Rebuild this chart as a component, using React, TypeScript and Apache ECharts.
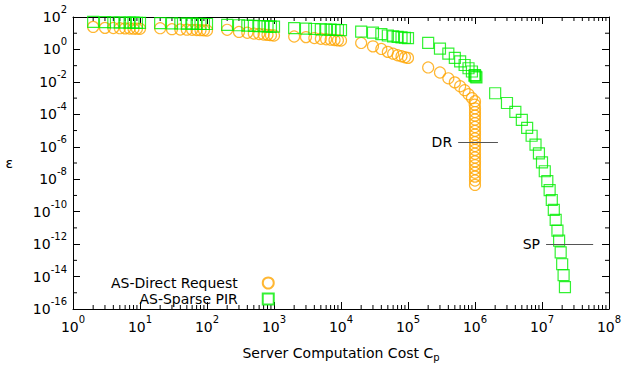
import React, { useEffect, useRef } from 'react';
import * as echarts from 'echarts';

const FONT = 'DejaVu Sans';
const ORANGE = '#ffa500';
const GREEN = '#00ee00';

// Server computation cost (C_p) for AS-Direct Request
const drCost = [
  2, 3, 4, 5, 6, 7, 8, 9, 10,
  20, 30, 40, 50, 60, 70, 80, 90, 100,
  200, 300, 400, 500, 600, 700, 800, 900, 1000,
  2000, 3000, 4000, 5000, 6000, 7000, 8000, 9000, 10000,
  2e4, 3e4, 4e4, 5e4, 6e4, 7e4, 8e4, 9e4, 1e5,
  2e5, 3e5, 4e5, 5e5, 6e5, 7e5, 8e5, 9e5, 1e6,
];
// log10(epsilon) for AS-Direct Request
const drLogEps = [
  1.39, 1.33, 1.32, 1.31, 1.30, 1.29, 1.28, 1.28, 1.27,
  1.31, 1.25, 1.23, 1.22, 1.21, 1.20, 1.19, 1.18, 1.17,
  1.21, 1.08, 1.03, 0.98, 0.95, 0.92, 0.90, 0.88, 0.86,
  0.80, 0.76, 0.70, 0.66, 0.63, 0.60, 0.58, 0.56, 0.55,
  0.40, 0.19, 0.03, -0.15, -0.26, -0.36, -0.42, -0.48, -0.52,
  -1.11, -1.42, -1.78, -2.03, -2.27, -2.51, -2.76, -3.00, -3.19,
];
// vertical stack of AS-Direct Request near C_p = 1e6
const drStackCost = [
  0.99e6, 1e6, 1e6, 1e6, 1e6, 1e6, 1e6, 1e6, 1e6, 1e6, 1e6,
  1e6, 1e6, 1e6, 1e6, 1e6, 1e6, 1e6, 1e6, 1e6, 1e6, 1e6,
];
const drStackLogEps = [
  -3.40, -3.63, -3.86, -4.08, -4.32, -4.55, -4.78, -5.02, -5.25, -5.49, -5.72,
  -5.95, -6.19, -6.43, -6.66, -6.90, -7.13, -7.37, -7.60, -7.84, -8.08, -8.35,
];

// AS-Sparse PIR
const spCost = [
  2, 3, 4, 5, 6, 7, 8, 9, 10,
  20, 30, 40, 50, 60, 70, 80, 90, 100,
  200, 300, 400, 500, 600, 700, 800, 900, 1000,
  2000, 3000, 4000, 5000, 6000, 7000, 8000, 9000, 10000,
  2e4, 3e4, 4e4, 5e4, 6e4, 7e4, 8e4, 9e4, 1e5,
  2e5, 3e5, 4e5, 5e5, 6e5, 7e5, 8e5, 9e5, 1e6,
  0.98e6, 1.02e6, 1.05e6,
];
const spLogEps = [
  1.70, 1.68, 1.67, 1.66, 1.66, 1.65, 1.65, 1.64, 1.64,
  1.62, 1.61, 1.60, 1.59, 1.59, 1.58, 1.58, 1.57, 1.57,
  1.52, 1.49, 1.47, 1.45, 1.44, 1.43, 1.42, 1.41, 1.41,
  1.31, 1.28, 1.26, 1.24, 1.23, 1.22, 1.21, 1.20, 1.19,
  1.10, 1.04, 0.94, 0.86, 0.81, 0.77, 0.74, 0.72, 0.70,
  0.41, 0.05, -0.26, -0.52, -0.74, -0.96, -1.16, -1.36, -1.58,
  -1.62, -1.68, -1.72,
];
const spTailCost = [
  2e6, 3e6, 4e6, 5e6, 6e6, 7e6, 8e6, 9e6, 10e6, 11e6, 12e6,
  13e6, 14e6, 15e6, 16e6, 17e6, 18e6, 19e6, 20e6, 21e6, 22e6,
];
const spTailLogEps = [
  -2.70, -3.30, -3.85, -4.34, -4.83, -5.32, -5.87, -6.41, -6.96, -7.51, -8.12,
  -8.67, -9.28, -9.89, -10.50, -11.17, -11.78, -12.51, -13.24, -13.91, -14.65,
];

// annotations
const drMark = { label: 'DR', from: 5.6e5, to: 2.2e6, eps: 2e-6 };
const spMark = { label: 'SP', from: 1.15e7, to: 5.8e7, eps: 1e-12 };

const X_MIN = 1, X_MAX = 1e8;
const Y_MIN = 1e-16, Y_MAX = 1e2;

const toPoints = (xs: number[], ls: number[]) => xs.map((x, i) => [x, Math.pow(10, ls[i])]);

// minor tick positions (axis decoration)
const xMinor: number[][] = [];
for (let d = 0; d < 8; d++) for (let k = 2; k <= 9; k++) xMinor.push([k * Math.pow(10, d), 1]);
const yMinor: number[][] = [];
for (let e = -15; e <= 1; e += 2) yMinor.push([1, Math.pow(10, e)]);

const supFmt = (v: number) => `{b|10}{s|${Math.round(Math.log10(v))}}`;
const supRich = {
  b: { fontSize: 14, fontFamily: FONT, color: '#000' },
  s: { fontSize: 10, fontFamily: FONT, color: '#000', padding: [0, 0, 15, 0] },
};

export default function App() {
  const ref = useRef<HTMLDivElement>(null);
  useEffect(() => {
    if (!ref.current) return;
    const chart = echarts.init(ref.current, undefined, { renderer: 'svg' });
    const tickStyle = { color: '#000', width: 1 };
    const option: any = {
      animation: false,
      backgroundColor: '#fff',
      textStyle: { fontFamily: FONT },
      grid: { left: 73, right: 16, top: 17, bottom: 54, containLabel: false },
      legend: {
        data: ['AS-Direct Request', 'AS-Sparse PIR'],
        orient: 'vertical',
        align: 'right',
        left: 111,
        top: 276,
        padding: 0,
        itemWidth: 11,
        itemHeight: 11,
        itemGap: 2,
        selectedMode: false,
        textStyle: { fontSize: 14, fontFamily: FONT, color: '#000', lineHeight: 14, padding: [0, 20, 0, 0] },
      },
      xAxis: [
        {
          type: 'log', logBase: 10, min: X_MIN, max: X_MAX, interval: 1,
          position: 'bottom',
          name: 'Server Computation Cost C{sub|p}',
          nameLocation: 'middle', nameGap: 34,
          nameTextStyle: {
            fontSize: 14, fontFamily: FONT, color: '#000',
            rich: { sub: { fontSize: 10, fontFamily: FONT, color: '#000', padding: [9, 0, 0, 0] } },
          },
          axisLine: { lineStyle: { color: '#000', width: 1 } },
          axisTick: { inside: true, length: 7, lineStyle: tickStyle },
          axisLabel: { formatter: supFmt, rich: supRich, margin: 5 },
          splitLine: { show: false },
        },
        {
          type: 'log', logBase: 10, min: X_MIN, max: X_MAX, interval: 1,
          position: 'top',
          axisLine: { lineStyle: { color: '#000', width: 1 } },
          axisTick: { inside: true, length: 7, lineStyle: tickStyle },
          axisLabel: { show: false },
          splitLine: { show: false },
        },
      ],
      yAxis: [
        {
          type: 'log', logBase: 10, min: Y_MIN, max: Y_MAX, interval: 2,
          position: 'left',
          name: 'ε', nameLocation: 'middle', nameGap: 60, nameRotate: 0,
          nameTextStyle: { fontSize: 14, fontFamily: FONT, color: '#000', lineHeight: 1 },
          axisLine: { lineStyle: { color: '#000', width: 1 } },
          axisTick: { inside: true, length: 7, lineStyle: tickStyle },
          axisLabel: { formatter: supFmt, rich: supRich, margin: 6 },
          splitLine: { show: false },
        },
        {
          type: 'log', logBase: 10, min: Y_MIN, max: Y_MAX, interval: 2,
          position: 'right',
          axisLine: { lineStyle: { color: '#000', width: 1 } },
          axisTick: { inside: true, length: 7, lineStyle: tickStyle },
          axisLabel: { show: false },
          splitLine: { show: false },
        },
      ],
      series: [
        {
          type: 'custom', silent: true, xAxisIndex: 0, yAxisIndex: 0,
          data: xMinor,
          renderItem: (params: any, api: any) => {
            const c = api.value(0);
            const pb = api.coord([c, Y_MIN]);
            const pt = api.coord([c, Y_MAX]);
            return {
              type: 'group',
              children: [
                { type: 'line', shape: { x1: pb[0], y1: pb[1], x2: pb[0], y2: pb[1] - 4 }, style: { stroke: '#000', lineWidth: 1 } },
                { type: 'line', shape: { x1: pt[0], y1: pt[1], x2: pt[0], y2: pt[1] + 4 }, style: { stroke: '#000', lineWidth: 1 } },
              ],
            };
          },
        },
        {
          type: 'custom', silent: true, xAxisIndex: 0, yAxisIndex: 0,
          data: yMinor,
          renderItem: (params: any, api: any) => {
            const v = api.value(1);
            const pl = api.coord([X_MIN, v]);
            const pr = api.coord([X_MAX, v]);
            return {
              type: 'group',
              children: [
                { type: 'line', shape: { x1: pl[0], y1: pl[1], x2: pl[0] + 4, y2: pl[1] }, style: { stroke: '#000', lineWidth: 1 } },
                { type: 'line', shape: { x1: pr[0], y1: pr[1], x2: pr[0] - 4, y2: pr[1] }, style: { stroke: '#000', lineWidth: 1 } },
              ],
            };
          },
        },
        {
          name: 'AS-Direct Request',
          type: 'scatter',
          symbol: 'circle',
          symbolSize: 11,
          itemStyle: { color: 'rgba(0,0,0,0)', borderColor: ORANGE, borderWidth: 1.2 },
          data: [...toPoints(drCost, drLogEps), ...toPoints(drStackCost, drStackLogEps)],
          markLine: {
            silent: true, symbol: ['none', 'none'], animation: false,
            lineStyle: { color: '#555', width: 1.2, type: 'solid' },
            label: { show: true, position: 'start', formatter: drMark.label, fontSize: 14, fontFamily: FONT, color: '#000', distance: 6 },
            data: [[{ coord: [drMark.from, drMark.eps] }, { coord: [drMark.to, drMark.eps] }]],
          },
        },
        {
          name: 'AS-Sparse PIR',
          type: 'scatter',
          symbol: 'rect',
          symbolSize: 11,
          itemStyle: { color: 'rgba(0,0,0,0)', borderColor: GREEN, borderWidth: 1.2 },
          data: [...toPoints(spCost, spLogEps), ...toPoints(spTailCost, spTailLogEps)],
          markLine: {
            silent: true, symbol: ['none', 'none'], animation: false,
            lineStyle: { color: '#555', width: 1.2, type: 'solid' },
            label: { show: true, position: 'start', formatter: spMark.label, fontSize: 14, fontFamily: FONT, color: '#000', distance: 6 },
            data: [[{ coord: [spMark.from, spMark.eps] }, { coord: [spMark.to, spMark.eps] }]],
          },
        },
      ],
    };
    chart.setOption(option);
    return () => chart.dispose();
  }, []);
  return <div ref={ref} style={{ position: 'fixed', left: 0, top: 0, width: 625, height: 367 }} />;
}
